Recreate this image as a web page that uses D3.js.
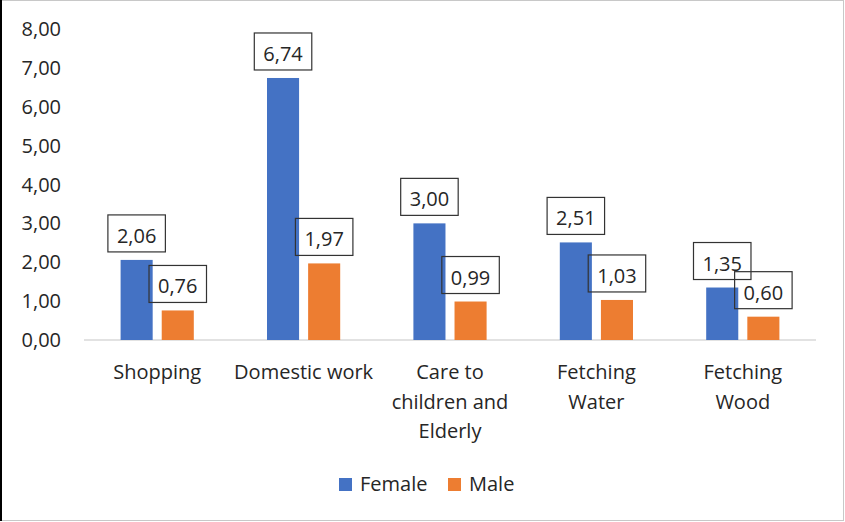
<!DOCTYPE html>
<html>
<head>
<meta charset="utf-8">
<script src="https://cdn.jsdelivr.net/npm/d3@7"></script>
<style>
  html, body { margin: 0; padding: 0; background: #fff; }
  svg { display: block; }
  text { font-family: "Open Sans", sans-serif; fill: #262626; }
</style>
</head>
<body>
<svg id="chart" width="845" height="522"></svg>
<script>
const categories = ["Shopping", "Domestic work", "Care to children and Elderly", "Fetching Water", "Fetching Wood"];
const categoryLines = [["Shopping"], ["Domestic work"], ["Care to", "children and", "Elderly"], ["Fetching", "Water"], ["Fetching", "Wood"]];
const seriesNames = ["Female", "Male"];
const female = [2.06, 6.74, 3.00, 2.51, 1.35];
const male = [0.76, 1.97, 0.99, 1.03, 0.60];
const yTicks = [0, 1, 2, 3, 4, 5, 6, 7, 8];
const colors = ["#4472C4", "#ED7D31"];

const seriesValues = [female, male];
const fmt = v => v.toFixed(2).replace(".", ",");

const svg = d3.select("#chart");
const W = 845, H = 522;

// frame
svg.append("rect").attr("x", 0.5).attr("y", 0.5).attr("width", W - 2).attr("height", H - 2)
  .attr("fill", "#fff").attr("stroke", "#c8c8c8").attr("stroke-width", 1);
svg.append("line").attr("x1", 1).attr("x2", 1).attr("y1", 0).attr("y2", H - 1)
  .attr("stroke", "#000").attr("stroke-width", 2);

const x0 = d3.scaleBand().domain(categories).range([84, 816]).paddingInner(0.5).paddingOuter(0.25);
const x1 = d3.scaleBand().domain(seriesNames).range([0, x0.bandwidth()]).paddingInner(0.22);
const y = d3.scaleLinear().domain([0, 8]).range([340, 29]);

// y tick labels
svg.append("g").selectAll("text").data(yTicks).join("text")
  .attr("x", 61).attr("y", d => y(d) + 7)
  .attr("text-anchor", "end").attr("font-size", 20)
  .text(d => fmt(d));

// baseline axis
svg.append("line").attr("x1", 84).attr("x2", 816).attr("y1", y(0)).attr("y2", y(0))
  .attr("stroke", "#d9d9d9").attr("stroke-width", 1.5);

// bars
const groups = svg.append("g").selectAll("g").data(categories).join("g")
  .attr("transform", c => `translate(${x0(c)},0)`);

const barData = (c, i) => seriesNames.map((s, k) => ({ s, k, v: seriesValues[k][i] }));

groups.each(function (c, i) {
  const g = d3.select(this);
  const data = barData(c, i);
  g.selectAll("rect.bar").data(data).join("rect").attr("class", "bar")
    .attr("x", d => x1(d.s)).attr("width", x1.bandwidth())
    .attr("y", d => y(d.v)).attr("height", d => y(0) - y(d.v))
    .attr("fill", d => colors[d.k]);
});

// labels (drawn after all bars so they overlay)
groups.each(function (c, i) {
  const g = d3.select(this);
  const data = barData(c, i);
  data.forEach(d => {
    const cx = x1(d.s) + x1.bandwidth() / 2;
    const top = y(d.v) - 45;
    const lg = g.append("g");
    const box = lg.append("rect");
    const t = lg.append("text").attr("x", cx).attr("y", top + 28)
      .attr("text-anchor", "middle").attr("font-size", 20).text(fmt(d.v));
    const w = t.node().getComputedTextLength() + 18;
    box.attr("x", cx - w / 2).attr("y", top).attr("width", w).attr("height", 37)
      .attr("fill", "#fff").attr("fill-opacity", 0).attr("stroke", "#333").attr("stroke-width", 1.2);
  });
});

// category labels
groups.each(function (c, i) {
  const g = d3.select(this);
  g.selectAll("text.cat").data(categoryLines[i]).join("text").attr("class", "cat")
    .attr("x", x0.bandwidth() / 2).attr("y", (d, j) => 379 + j * 29.5)
    .attr("text-anchor", "middle").attr("font-size", 20).text(d => d);
});

// legend
const legendX = [339, 448];
const legend = svg.append("g").selectAll("g").data(seriesNames).join("g")
  .attr("transform", (d, k) => `translate(${legendX[k]},478)`);
legend.append("rect").attr("width", 13).attr("height", 13).attr("fill", (d, k) => colors[k]);
legend.append("text").attr("x", 21).attr("y", 13).attr("font-size", 20).text(d => d);
</script>
</body>
</html>
